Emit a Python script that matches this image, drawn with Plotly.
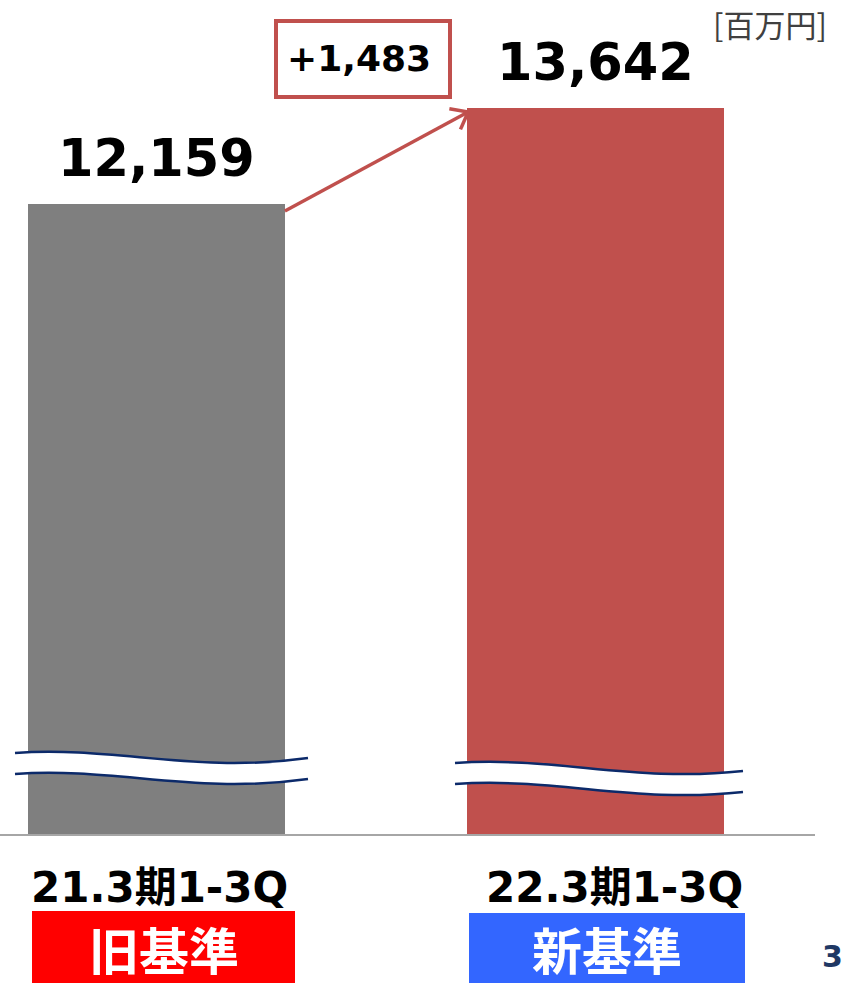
import math
import plotly.graph_objects as go

# ---- data ----
categories = ["21.3期1-3Q", "22.3期1-3Q"]
values = [12159, 13642]
value_labels = ["12,159", "13,642"]
standards = ["旧基準", "新基準"]
diff_label = "+1,483"
unit_label = "[百万円]"
page_no = "3"

bar_colors = ["#7f7f7f", "#c0504d"]
std_colors = ["#ff0000", "#3366ff"]

W, H = 844, 983
L, R, T, B = 0, 29, 0, 149
PW, PH = W - L - R, H - T - B

Y0, Y1 = 2427, 15310
X0, X1 = -0.3565, 1.5


def px(xp):  # pixel x -> paper
    return (xp - L) / PW


def py(yp):  # pixel y -> paper
    return (T + PH - yp) / PH


def x2px(x):
    return L + (x - X0) / (X1 - X0) * PW


def y2px(y):
    return T + PH - (y - Y0) / (Y1 - Y0) * PH


xs = list(range(len(categories)))
bw = 0.585

fig = go.Figure()
fig.add_trace(go.Bar(
    x=xs, y=values, width=bw, marker=dict(color=bar_colors, line=dict(width=0)),
    hoverinfo="skip", showlegend=False,
))

shapes = []
annotations = []

FONT_LAT = "DejaVu Sans, Noto Sans CJK JP, sans-serif"
FONT_CJK = "Noto Sans CJK JP, sans-serif"

# value labels
for i, (v, lab) in enumerate(zip(values, value_labels)):
    annotations.append(dict(
        x=i, y=v, xref="x", yref="y", text=f"<b>{lab}</b>", showarrow=False,
        yanchor="bottom", yshift=14, font=dict(family=FONT_LAT, size=51, color="#000000"),
    ))

# category labels and standard boxes
label_shift = [3, 19]
box_px = [(32, 295, 911, 983), (469, 745, 913, 983)]
for i, cat in enumerate(categories):
    cx = x2px(i) + label_shift[i]
    annotations.append(dict(
        x=px(cx), y=py(887), xref="paper", yref="paper", text=f"<b>{cat}</b>",
        showarrow=False, xanchor="center", yanchor="middle",
        font=dict(family=FONT_LAT, size=42, color="#000000"),
    ))
    x0p, x1p, y0p, y1p = box_px[i]
    shapes.append(dict(type="rect", xref="paper", yref="paper",
                       x0=px(x0p), x1=px(x1p), y0=py(y0p), y1=py(y1p),
                       fillcolor=std_colors[i], line=dict(width=0), layer="above"))
    annotations.append(dict(
        x=px((x0p + x1p) / 2), y=py(948), xref="paper", yref="paper",
        text=f"<b>{standards[i]}</b>", showarrow=False, xanchor="center", yanchor="middle",
        font=dict(family=FONT_CJK, size=50, color="#ffffff"),
    ))

# break marks
def curve(p0, c1, c2, p1):
    return (f"M{px(p0[0])},{py(p0[1])} C{px(c1[0])},{py(c1[1])} "
            f"{px(c2[0])},{py(c2[1])} {px(p1[0])},{py(p1[1])}")


def band(p0, c1, c2, p1, d):
    up = curve(p0, c1, c2, p1)
    lo = (f"L{px(p1[0])},{py(p1[1] + d)} C{px(c2[0])},{py(c2[1] + d)} "
          f"{px(c1[0])},{py(c1[1] + d)} {px(p0[0])},{py(p0[1] + d)} Z")
    return up + " " + lo


breaks = [
    ((15, 753), (115, 746), (195, 774), (308, 758)),
    ((455, 763), (555, 756), (635, 783), (743, 771)),
]
gap = 21
for b in breaks:
    shapes.append(dict(type="path", xref="paper", yref="paper", path=band(*b, gap),
                       fillcolor="#ffffff", line=dict(width=0), layer="above"))
    for d in (0, gap):
        pts = [(p[0], p[1] + d) for p in b]
        shapes.append(dict(type="path", xref="paper", yref="paper", path=curve(*pts),
                           line=dict(color="#0c2a6a", width=2.5), layer="above"))

# arrow
ax0, ay0 = x2px(0 + bw / 2), y2px(values[0]) + 7
ax1, ay1 = x2px(1 - bw / 2) + 1, y2px(values[1]) + 4
red = "#c0504d"
shapes.append(dict(type="line", xref="paper", yref="paper",
                   x0=px(ax0), y0=py(ay0), x1=px(ax1), y1=py(ay1),
                   line=dict(color=red, width=3.5), layer="above"))
ang = math.atan2(ay1 - ay0, ax1 - ax0)
for s in (1, -1):
    a = ang + math.pi + s * math.radians(38)
    hx, hy = ax1 + 19 * math.cos(a), ay1 + 19 * math.sin(a)
    shapes.append(dict(type="line", xref="paper", yref="paper",
                       x0=px(ax1), y0=py(ay1), x1=px(hx), y1=py(hy),
                       line=dict(color=red, width=3.5), layer="above"))

# diff box
shapes.append(dict(type="rect", xref="paper", yref="paper",
                   x0=px(276), x1=px(450), y0=py(21), y1=py(97),
                   fillcolor="#ffffff", line=dict(color=red, width=4), layer="above"))
annotations.append(dict(
    x=px(359), y=py(58), xref="paper", yref="paper", text=f"<b>{diff_label}</b>",
    showarrow=False, xanchor="center", yanchor="middle",
    font=dict(family=FONT_LAT, size=36, color="#000000"),
))

# unit label
annotations.append(dict(
    x=px(770), y=py(23), xref="paper", yref="paper", text=unit_label,
    showarrow=False, xanchor="center", yanchor="middle",
    font=dict(family=FONT_CJK, size=31, color="#404040"),
))

# page number
annotations.append(dict(
    x=px(832), y=py(956), xref="paper", yref="paper", text=f"<b>{page_no}</b>",
    showarrow=False, xanchor="center", yanchor="middle",
    font=dict(family=FONT_LAT, size=30, color="#1f3864"),
))

fig.update_layout(
    width=W, height=H, margin=dict(l=L, r=R, t=T, b=B, pad=0),
    paper_bgcolor="#ffffff", plot_bgcolor="#ffffff",
    xaxis=dict(range=[X0, X1], showgrid=False, zeroline=False, showticklabels=False,
               ticks="", showline=True, linecolor="#a6a6a6", linewidth=2, fixedrange=True),
    yaxis=dict(range=[Y0, Y1], showgrid=False, zeroline=False, showticklabels=False,
               ticks="", showline=False, fixedrange=True),
    shapes=shapes, annotations=annotations, bargap=0,
)

fig.write_html("out.html", config={"displayModeBar": False},
               post_script="document.body.style.margin='0';document.body.style.overflow='hidden';")
